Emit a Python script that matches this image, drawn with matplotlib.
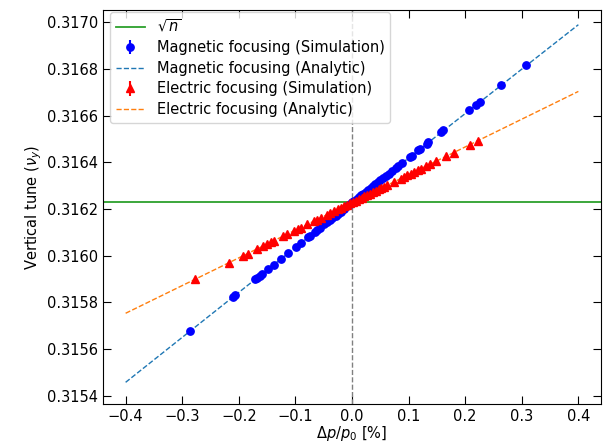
import matplotlib
matplotlib.use("Agg")
import matplotlib.pyplot as plt
import numpy as np

SQRT_N = 0.316228

# analytic curves (read at the ends and at zero)
ana_x = [-0.4, 0.0, 0.4]
mag_ana_y = [0.315457, 0.316228, 0.316990]
ele_ana_y = [0.315753, 0.316228, 0.316704]

# magnetic focusing simulation points
mag_x = [-0.287, -0.210, -0.207, -0.171, -0.168, -0.163, -0.159, -0.148, -0.1385, -0.126,
         -0.113, -0.099, -0.0895, -0.078, -0.075, -0.065, -0.061, -0.057, -0.049, -0.044,
         -0.039, -0.035, -0.029, -0.025, -0.020, -0.0145, -0.0085, -0.004, 0.0, 0.004,
         0.008, 0.012, 0.016, 0.020, 0.024, 0.028, 0.033, 0.037, 0.041, 0.046,
         0.050, 0.055, 0.060, 0.065, 0.070, 0.077, 0.081, 0.089, 0.1024, 0.1054,
         0.1166, 0.120, 0.132, 0.135, 0.157, 0.1615, 0.207, 0.219, 0.226, 0.2636, 0.308]
mag_y = [0.315676, 0.315824, 0.315830, 0.315899, 0.315905, 0.315914, 0.315922, 0.315943, 0.315961, 0.315985,
         0.316010, 0.316037, 0.316056, 0.316078, 0.316084, 0.316103, 0.316111, 0.316118, 0.316134, 0.316143,
         0.316153, 0.316161, 0.316172, 0.316180, 0.316189, 0.316200, 0.316212, 0.316220, 0.316228, 0.316236,
         0.316243, 0.316251, 0.316259, 0.316266, 0.316274, 0.316282, 0.316291, 0.316299, 0.316306, 0.316316,
         0.316324, 0.316333, 0.316343, 0.316352, 0.316362, 0.316375, 0.316383, 0.316398, 0.316424, 0.316429,
         0.316451, 0.316457, 0.316480, 0.316486, 0.316528, 0.316537, 0.316623, 0.316646, 0.316660, 0.316732, 0.316816]

# electric focusing simulation points
ele_x = [-0.277, -0.2165, -0.193, -0.184, -0.168, -0.157, -0.150, -0.143, -0.1385, -0.122,
         -0.115, -0.103, -0.096, -0.091, -0.079, -0.068, -0.062, -0.0545, -0.044, -0.038,
         -0.031, -0.025, -0.020, -0.014, -0.008, -0.003, 0.002, 0.007, 0.012, 0.017,
         0.022, 0.027, 0.032, 0.037, 0.042, 0.047, 0.052, 0.057, 0.0625, 0.074,
         0.086, 0.092, 0.098, 0.104, 0.110, 0.116, 0.122, 0.130, 0.138, 0.148,
         0.166, 0.180, 0.208, 0.222]
ele_y = [0.315898, 0.315970, 0.315998, 0.316009, 0.316028, 0.316041, 0.316049, 0.316058, 0.316063, 0.316083,
         0.316091, 0.316105, 0.316114, 0.316120, 0.316134, 0.316147, 0.316154, 0.316163, 0.316176, 0.316183,
         0.316191, 0.316198, 0.316204, 0.316211, 0.316218, 0.316224, 0.316230, 0.316236, 0.316242, 0.316248,
         0.316254, 0.316260, 0.316266, 0.316272, 0.316278, 0.316284, 0.316290, 0.316296, 0.316302, 0.316316,
         0.316330, 0.316338, 0.316345, 0.316352, 0.316359, 0.316366, 0.316373, 0.316383, 0.316392, 0.316404,
         0.316426, 0.316442, 0.316476, 0.316492]
sim_err = 1e-6

xticks = [-0.4, -0.3, -0.2, -0.1, 0.0, 0.1, 0.2, 0.3, 0.4]
xticklabels = ["\u22120.4", "\u22120.3", "\u22120.2", "\u22120.1", "0.0", "0.1", "0.2", "0.3", "0.4"]

plt.rcParams["font.size"] = 10.5
fig, ax = plt.subplots(figsize=(6.08, 4.45), dpi=100)
fig.subplots_adjust(left=0.1694, right=0.9885, top=0.9775, bottom=0.0921)

h0 = ax.axhline(SQRT_N, color="#2ca02c", lw=1.3, label=r"$\sqrt{n}$")
h1 = ax.errorbar(mag_x, mag_y, yerr=sim_err, fmt="o", color="blue", ms=5.3,
                 label="Magnetic focusing (Simulation)")
h2, = ax.plot(ana_x, mag_ana_y, "--", color="#1f77b4", lw=1, label="Magnetic focusing (Analytic)")
h3 = ax.errorbar(ele_x, ele_y, yerr=sim_err, fmt="^", color="red", ms=5.5,
                 label="Electric focusing (Simulation)")
h4, = ax.plot(ana_x, ele_ana_y, "--", color="#ff7f0e", lw=1, label="Electric focusing (Analytic)")
ax.axvline(0, color="gray", ls="--", lw=1)

ax.set_xlim(-0.44, 0.44)
ax.set_ylim(0.315364, 0.317053)
ax.set_xticks(xticks)
ax.set_xticklabels(xticklabels)
ax.set_yticks(np.arange(0.3154, 0.31701, 0.0002))
ax.yaxis.set_major_formatter(matplotlib.ticker.FormatStrFormatter("%.4f"))
ax.tick_params(direction="in", top=True, right=True, length=6)
ax.set_xlabel(r"$\Delta p/p_0$ [%]", labelpad=0)
ax.set_ylabel(r"Vertical tune ($\nu_y$)", labelpad=2)
ax.legend(handles=[h0, h1, h2, h3, h4], loc="upper left", fontsize=10.5,
          bbox_to_anchor=(0.014, 0.995), borderaxespad=0, labelspacing=0.38)

fig.savefig("out.png", dpi=100)
